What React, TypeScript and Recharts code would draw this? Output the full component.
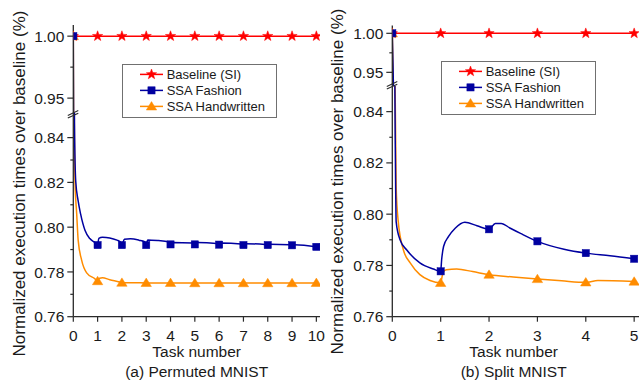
import React from 'react';
import { LineChart, Line, XAxis, YAxis, Legend, Label } from 'recharts';

const SERIES_NAMES = ['Baseline (SI)', 'SSA Fashion', 'SSA Handwritten'];
const SERIES_COLORS = ['#FF0000', '#0000A0', '#FF8C00'];
const SERIES_SHAPES = ['star', 'square', 'triangle'];

// (a) Permuted MNIST
const A_BASELINE: [number, number][] = [
  [0, 1.0], [1, 1.0], [2, 1.0], [3, 1.0], [4, 1.0], [5, 1.0], [6, 1.0], [7, 1.0], [8, 1.0], [9, 1.0], [10, 1.0],
];
const A_FASHION: [number, number][] = [
  [0, 1.0], [0.02, 0.9], [0.05, 0.845], [0.1, 0.8205], [0.2, 0.8117], [0.3, 0.8059], [0.48, 0.7986],
  [0.68, 0.7949], [0.9, 0.793], [1, 0.792], [1.05, 0.795], [1.2, 0.7955], [1.5, 0.7952], [1.8, 0.7942],
  [1.93, 0.7935], [2, 0.792], [2.1, 0.7946], [2.35, 0.7948], [2.7, 0.7942], [2.93, 0.7935], [3, 0.792],
  [3.06, 0.7943], [3.5, 0.794], [3.9, 0.7935], [4, 0.7923], [4.08, 0.7932], [4.9, 0.7929], [5, 0.7923],
  [5.08, 0.7931], [5.9, 0.7927], [6, 0.7922], [6.08, 0.7929], [6.9, 0.7925], [7, 0.792], [7.08, 0.7926],
  [7.9, 0.7923], [8, 0.792], [8.08, 0.7924], [8.9, 0.7921], [9, 0.7919], [9.08, 0.7921], [9.9, 0.7914],
  [10, 0.7912],
];
const A_HANDWRITTEN: [number, number][] = [
  [0, 1.0], [0.02, 0.9], [0.04, 0.85], [0.07, 0.8205], [0.14, 0.8059], [0.2, 0.7942], [0.34, 0.7854],
  [0.55, 0.7796], [0.88, 0.777], [1, 0.7759], [1.08, 0.7772], [1.2, 0.7774], [1.5, 0.7765], [1.9, 0.7755],
  [2, 0.7752], [2.5, 0.7752], [3, 0.7751], [4, 0.7751], [5, 0.775], [6, 0.775], [7, 0.775], [8, 0.775],
  [9, 0.775], [10, 0.7751],
];

// (b) Split MNIST
const B_BASELINE: [number, number][] = [
  [0, 1.0], [1, 1.0], [2, 1.0], [3, 1.0], [4, 1.0], [5, 1.0],
];
const B_FASHION: [number, number][] = [
  [0, 1.0], [0.06, 0.83], [0.08, 0.797], [0.16, 0.79], [0.3, 0.786], [0.57, 0.781], [0.85, 0.7786],
  [1, 0.7777], [1.02, 0.7822], [1.06, 0.7874], [1.16, 0.7912], [1.3, 0.7945], [1.5, 0.7968], [1.75, 0.7955],
  [2, 0.7941], [2.13, 0.7964], [2.25, 0.7964], [2.44, 0.7945], [2.65, 0.7925], [3, 0.7894], [3.55, 0.7863],
  [4, 0.7848], [4.5, 0.7838], [5, 0.7826],
];
const B_HANDWRITTEN: [number, number][] = [
  [0, 1.0], [0.03, 0.9], [0.08, 0.8106], [0.12, 0.7977], [0.23, 0.786], [0.37, 0.781], [0.57, 0.7764],
  [0.78, 0.7741], [1, 0.7732], [1.05, 0.7774], [1.12, 0.7783], [1.33, 0.7786], [1.66, 0.7776], [2, 0.7764],
  [2.5, 0.7755], [3, 0.7747], [3.5, 0.774], [4, 0.7734], [4.25, 0.7741], [5, 0.7737],
];

const A_X_TICKS = [0, 1, 2, 3, 4, 5, 6, 7, 8, 9, 10];
const B_X_TICKS = [0, 1, 2, 3, 4, 5];
const Y_TICKS_TOP = [0.95, 0.975, 1.0];
const Y_TICKS_BOTTOM = [0.76, 0.77, 0.78, 0.79, 0.8, 0.81, 0.82, 0.83, 0.84];
const Y_MAJOR = [0.76, 0.78, 0.8, 0.82, 0.84, 0.95, 1.0];

const AXIS = '#2a2a2a';
const FONT = '"Liberation Sans", Arial, Helvetica, sans-serif';

const rows = (pts: [number, number][]) => pts.map(([x, y]) => ({ x, y }));

function Marker({ shape, cx, cy, color }: { shape: string; cx: number; cy: number; color: string }) {
  if (shape === 'star') {
    const pts: string[] = [];
    for (let i = 0; i < 10; i++) {
      const r = i % 2 === 0 ? 5.4 : 2.2;
      const a = -Math.PI / 2 + (i * Math.PI) / 5;
      pts.push(`${cx + r * Math.cos(a)},${cy + r * Math.sin(a)}`);
    }
    return <polygon points={pts.join(' ')} fill={color} stroke={color} strokeWidth={0.5} />;
  }
  if (shape === 'square') {
    return <rect x={cx - 3.6} y={cy - 3.6} width={7.2} height={7.2} fill={color} stroke={color} strokeWidth={0.5} />;
  }
  return (
    <polygon
      points={`${cx},${cy - 4.8} ${cx + 5.2},${cy + 3.6} ${cx - 5.2},${cy + 3.6}`}
      fill={color}
      stroke={color}
      strokeWidth={0.5}
    />
  );
}

const makeDot = (shape: string, color: string) => (props: any) => {
  const { cx, cy, payload, index } = props;
  if (cx == null || cy == null || !payload || !Number.isInteger(payload.x)) {
    return <g key={`n-${index}`} />;
  }
  return (
    <g key={`d-${index}`}>
      <Marker shape={shape} cx={cx} cy={cy} color={color} />
    </g>
  );
};

const YTick = (props: any) => {
  const { x, y, payload } = props;
  const v = payload.value as number;
  const major = Y_MAJOR.some((m) => Math.abs(m - v) < 1e-6);
  const len = major ? 6 : 3;
  return (
    <g>
      <line x1={x} x2={x - len} y1={y} y2={y} stroke={AXIS} strokeWidth={1.2} />
      {major && (
        <text x={x - 9} y={y} dy="0.36em" textAnchor="end" fontSize={15.5} fill="#1a1a1a" fontFamily={FONT}>
          {v.toFixed(2)}
        </text>
      )}
    </g>
  );
};

const LegendBox = (props: any) => {
  const payload: any[] = props.payload || [];
  const items = [...payload]
    .filter((p) => SERIES_NAMES.includes(p.value))
    .sort((a, b) => SERIES_NAMES.indexOf(a.value) - SERIES_NAMES.indexOf(b.value));
  return (
    <svg width={155} height={54} style={{ display: 'block' }}>
      <rect x={0.5} y={0.5} width={154} height={53} fill="#fff" stroke="#707070" strokeWidth={1} />
      {items.map((it, i) => {
        const idx = SERIES_NAMES.indexOf(it.value);
        const cy = 10.4 + i * 16;
        const color = SERIES_COLORS[idx];
        return (
          <g key={it.value}>
            <line x1={18} x2={41} y1={cy} y2={cy} stroke={color} strokeWidth={1.5} />
            <Marker shape={SERIES_SHAPES[idx]} cx={29.5} cy={cy} color={color} />
            <text x={44.7} y={cy + 4.6} fontSize={13} fill="#1a1a1a" fontFamily={FONT}>
              {it.value}
            </text>
          </g>
        );
      })}
    </svg>
  );
};

type PanelCfg = {
  left: number;
  width: number;
  axisW: number;
  right: number;
  junction: number;
  topStart: number;
  yTop: [number, number];
  yBottom: [number, number];
  xDomain: [number, number];
  xTicks: number[];
  baseline: [number, number][];
  fashion: [number, number][];
  hand: [number, number][];
  caption: string;
  captionDx: number;
  legendLeft: number;
  legendTop: number;
  yLabelX: number;
  yLabelY: number;
  breakY: number;
};

const PLOT_BOTTOM = 316.7;
const XAXIS_H = 30;

function Panel({ cfg }: { cfg: PanelCfg }) {
  const lines = [
    <Line
      key="base"
      data={rows(cfg.baseline)}
      dataKey="y"
      name={SERIES_NAMES[0]}
      type="linear"
      stroke={SERIES_COLORS[0]}
      strokeWidth={1.5}
      dot={makeDot(SERIES_SHAPES[0], SERIES_COLORS[0])}
      activeDot={false}
      isAnimationActive={false}
    />,
    <Line
      key="hand"
      data={rows(cfg.hand)}
      dataKey="y"
      name={SERIES_NAMES[2]}
      type="monotone"
      stroke={SERIES_COLORS[2]}
      strokeWidth={1.5}
      dot={makeDot(SERIES_SHAPES[2], SERIES_COLORS[2])}
      activeDot={false}
      isAnimationActive={false}
    />,
    <Line
      key="fash"
      data={rows(cfg.fashion)}
      dataKey="y"
      name={SERIES_NAMES[1]}
      type="monotone"
      stroke={SERIES_COLORS[1]}
      strokeWidth={1.5}
      dot={makeDot(SERIES_SHAPES[1], SERIES_COLORS[1])}
      activeDot={false}
      isAnimationActive={false}
    />,
  ];
  const ax = cfg.axisW;
  const by = cfg.breakY;
  const W = cfg.width;
  return (
    <div style={{ position: 'absolute', left: cfg.left, top: 0, width: W, height: 384 }}>
      <div style={{ position: 'absolute', left: 0, top: 0 }}>
        <LineChart
          width={W}
          height={384}
          margin={{ top: cfg.junction, right: cfg.right, bottom: 384 - PLOT_BOTTOM - XAXIS_H, left: 0 }}
        >
          <XAxis
            type="number"
            dataKey="x"
            domain={cfg.xDomain}
            ticks={cfg.xTicks}
            allowDataOverflow
            height={XAXIS_H}
            interval={0}
            tickSize={5}
            tickMargin={8}
            stroke={AXIS}
            axisLine={{ stroke: AXIS, strokeWidth: 1.3 }}
            tickLine={{ stroke: AXIS, strokeWidth: 1.2 }}
            tick={{ fontSize: 15.5, fill: '#1a1a1a' }}
          >
            <Label value="Task number" position="bottom" offset={-0.5} dx={cfg.captionDx} fontSize={15.5} fill="#1a1a1a" />
            <Label value={cfg.caption} position="bottom" offset={19.6} dx={cfg.captionDx} fontSize={15.5} fill="#1a1a1a" />
          </XAxis>
          <YAxis
            type="number"
            domain={cfg.yBottom}
            ticks={Y_TICKS_BOTTOM}
            allowDataOverflow
            width={ax}
            interval={0}
            tickLine={false}
            tickSize={0}
            tickMargin={0}
            tick={<YTick />}
            axisLine={{ stroke: AXIS, strokeWidth: 1.3 }}
          />
          {lines}
          <Legend
            layout="vertical"
            align="center"
            verticalAlign="middle"
            content={<LegendBox />}
            wrapperStyle={{ left: cfg.legendLeft, top: cfg.legendTop, width: 155, height: 54 }}
          />
        </LineChart>
      </div>
      <div style={{ position: 'absolute', left: 0, top: 0 }}>
        <LineChart
          width={W}
          height={384}
          margin={{ top: cfg.topStart, right: cfg.right, bottom: 384 - cfg.junction, left: 0 }}
        >
          <XAxis type="number" dataKey="x" domain={cfg.xDomain} allowDataOverflow hide />
          <YAxis
            type="number"
            domain={cfg.yTop}
            ticks={Y_TICKS_TOP}
            allowDataOverflow
            width={ax}
            interval={0}
            tickLine={false}
            tickSize={0}
            tickMargin={0}
            tick={<YTick />}
            axisLine={{ stroke: AXIS, strokeWidth: 1.3 }}
          />
          {lines}
        </LineChart>
      </div>
      <svg
        width={W}
        height={384}
        style={{ position: 'absolute', left: 0, top: 0, pointerEvents: 'none' }}
      >
        <text
          x={cfg.yLabelX}
          y={cfg.yLabelY}
          transform={`rotate(-90 ${cfg.yLabelX} ${cfg.yLabelY})`}
          textAnchor="middle"
          fontSize={17}
          fill="#1a1a1a"
          fontFamily={FONT}
        >
          Normalized execution times over baseline (%)
        </text>
        <line x1={ax - 5.5} y1={by - 1.3 + 2.4} x2={ax + 5} y2={by - 1.3 - 2.4} stroke={AXIS} strokeWidth={1.1} />
        <line x1={ax - 5.5} y1={by + 1.3 + 2.4} x2={ax + 5} y2={by + 1.3 - 2.4} stroke={AXIS} strokeWidth={1.1} />
      </svg>
    </div>
  );
}

const PANEL_A: PanelCfg = {
  left: 0,
  width: 332,
  axisW: 73.3,
  right: 12,
  junction: 113,
  topStart: 25,
  yTop: [0.938, 1.009],
  yBottom: [0.76, 0.851],
  xDomain: [0, 10.15],
  xTicks: A_X_TICKS,
  baseline: A_BASELINE,
  fashion: A_FASHION,
  hand: A_HANDWRITTEN,
  caption: '(a) Permuted MNIST',
  captionDx: 0,
  legendLeft: 122,
  legendTop: 64.3,
  yLabelX: 25,
  yLabelY: 183.5,
  breakY: 114.3,
};

const PANEL_B: PanelCfg = {
  left: 320,
  width: 320,
  axisW: 72.3,
  right: 1,
  junction: 86,
  topStart: 25.5,
  yTop: [0.9325, 1.01],
  yBottom: [0.76, 0.85],
  xDomain: [0, 5.1],
  xTicks: B_X_TICKS,
  baseline: B_BASELINE,
  fashion: B_FASHION,
  hand: B_HANDWRITTEN,
  caption: '(b) Split MNIST',
  captionDx: -2,
  legendLeft: 120.7,
  legendTop: 60.7,
  yLabelX: 23,
  yLabelY: 181.5,
  breakY: 85.3,
};

export default function App() {
  return (
    <div
      style={{
        position: 'absolute',
        left: 0,
        top: 0,
        width: 640,
        height: 384,
        background: '#fff',
        fontFamily: FONT,
        overflow: 'hidden',
      }}
    >
      <Panel cfg={PANEL_A} />
      <Panel cfg={PANEL_B} />
    </div>
  );
}
